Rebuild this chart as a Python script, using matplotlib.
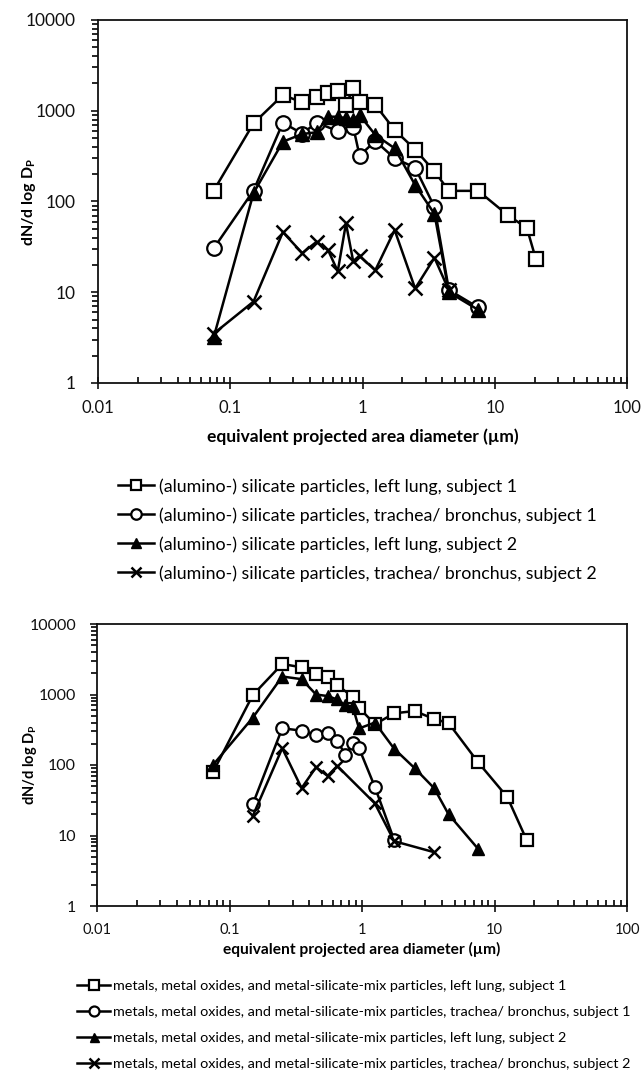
import matplotlib
matplotlib.use("Agg")
import matplotlib.pyplot as plt
from matplotlib.ticker import LogLocator, NullFormatter, FixedLocator, FixedFormatter

plt.rcParams['font.family'] = ['Lato', 'DejaVu Sans']
plt.rcParams['mathtext.fontset'] = 'custom'
plt.rcParams['mathtext.bf'] = 'Lato:bold'
plt.rcParams['mathtext.rm'] = 'Lato'

# ---------------- data: top panel, (alumino-) silicate particles ----------------
top_labels = [
    "(alumino-) silicate particles, left lung, subject 1",
    "(alumino-) silicate particles, trachea/ bronchus, subject 1",
    "(alumino-) silicate particles, left lung, subject 2",
    "(alumino-) silicate particles, trachea/ bronchus, subject 2",
]
t_sq_x = [0.075, 0.15, 0.25, 0.35, 0.45, 0.55, 0.65, 0.75, 0.85, 0.95, 1.25, 1.75, 2.5, 3.5, 4.5, 7.5, 12.5, 17.5, 20.5]
t_sq_y = [132, 727, 1490, 1240, 1430, 1580, 1660, 1150, 1780, 1240, 1160, 614, 374, 215, 131, 131, 71, 51, 23]
t_ci_x = [0.075, 0.15, 0.25, 0.35, 0.45, 0.65, 0.85, 0.95, 1.25, 1.75, 2.5, 3.5, 4.5, 7.5]
t_ci_y = [30.5, 132, 738, 560, 738, 598, 667, 320, 464, 299, 236, 87, 10.6, 6.8]
t_tr_x = [0.075, 0.15, 0.25, 0.35, 0.45, 0.55, 0.65, 0.75, 0.85, 0.95, 1.25, 1.75, 2.5, 3.5, 4.5, 7.5]
t_tr_y = [3.2, 124, 456, 554, 580, 860, 860, 826, 800, 898, 541, 386, 152, 73, 10, 6.4]
t_x_x = [0.075, 0.15, 0.25, 0.35, 0.45, 0.55, 0.65, 0.75, 0.85, 0.95, 1.25, 1.75, 2.5, 3.5, 4.5]
t_x_y = [3.5, 7.9, 46, 27, 36, 29, 17, 57.5, 22, 25, 17.5, 48.5, 11, 24, 10.5]

# ---------------- data: bottom panel, metals / metal oxides ----------------
bot_labels = [
    "metals, metal oxides, and metal-silicate-mix particles, left lung, subject 1",
    "metals, metal oxides, and metal-silicate-mix particles, trachea/ bronchus, subject 1",
    "metals, metal oxides, and metal-silicate-mix particles, left lung, subject 2",
    "metals, metal oxides, and metal-silicate-mix particles, trachea/ bronchus, subject 2",
]
b_sq_x = [0.075, 0.15, 0.25, 0.35, 0.45, 0.55, 0.65, 0.85, 0.95, 1.25, 1.75, 2.5, 3.5, 4.5, 7.5, 12.5, 17.5]
b_sq_y = [79, 984, 2710, 2430, 1950, 1750, 1360, 930, 650, 378, 541, 583, 449, 394, 110, 35, 8.6]
b_ci_x = [0.15, 0.25, 0.35, 0.45, 0.55, 0.65, 0.75, 0.85, 0.95, 1.25, 1.75]
b_ci_y = [28, 332, 307, 267, 287, 221, 139, 203, 173, 49, 8.6]
b_tr_x = [0.075, 0.15, 0.25, 0.35, 0.45, 0.55, 0.65, 0.75, 0.85, 0.95, 1.25, 1.75, 2.5, 3.5, 4.5, 7.5]
b_tr_y = [100, 470, 1800, 1650, 1000, 950, 850, 700, 680, 330, 400, 170, 90, 47, 20, 6.5]
b_x_x = [0.15, 0.25, 0.35, 0.45, 0.55, 0.65, 1.25, 1.75, 3.5]
b_x_y = [19, 173, 47, 93, 70, 97, 28.6, 8.3, 5.8]

x_ticks = [0.01, 0.1, 1, 10, 100]
x_ticklabels = ["0.01", "0.1", "1", "10", "100"]
y_ticks = [1, 10, 100, 1000, 10000]
y_ticklabels = ["1", "10", "100", "1000", "10000"]
xlabel = "equivalent projected area diameter (µm)"
ylabel = r"dN/d log D$_\mathbf{P}$"

W, H = 644, 1073
fig = plt.figure(figsize=(W / 100, H / 100), dpi=100)


def axes_px(left, right, top, bottom):
    return fig.add_axes([left / W, 1 - bottom / H, (right - left) / W, (bottom - top) / H])


def style_axes(ax, xtick_fs, ytick_fs, xlabel_fs, ylabel_fs, ypad, xlabelpad, ylabel_x):
    ax.set_xscale('log')
    ax.set_yscale('log')
    ax.set_xlim(0.01, 100)
    ax.set_ylim(1, 10000)
    ax.xaxis.set_major_locator(FixedLocator(x_ticks))
    ax.xaxis.set_major_formatter(FixedFormatter(x_ticklabels))
    ax.yaxis.set_major_locator(FixedLocator(y_ticks))
    ax.yaxis.set_major_formatter(FixedFormatter(y_ticklabels))
    ax.xaxis.set_minor_locator(LogLocator(base=10, subs=range(2, 10), numticks=20))
    ax.yaxis.set_minor_locator(LogLocator(base=10, subs=range(2, 10), numticks=20))
    ax.xaxis.set_minor_formatter(NullFormatter())
    ax.yaxis.set_minor_formatter(NullFormatter())
    ax.tick_params(axis='x', which='major', direction='inout', length=8, width=1.2,
                   labelsize=xtick_fs, pad=8, colors='#111111')
    ax.tick_params(axis='x', which='minor', direction='in', length=4, width=1.2)
    ax.tick_params(axis='y', which='major', direction='out', length=5, width=1.2,
                   labelsize=ytick_fs, pad=ypad, colors='#111111')
    ax.tick_params(axis='y', which='minor', direction='out', length=4, width=1.2)
    for s in ax.spines.values():
        s.set_linewidth(1.3)
        s.set_color('#111111')
    ax.set_xlabel(xlabel, fontsize=xlabel_fs, fontweight='bold', labelpad=xlabelpad)
    ax.set_ylabel(ylabel, fontsize=ylabel_fs, fontweight='bold')
    ax.yaxis.set_label_coords(ylabel_x, 0.5)


def plot_series(ax, xs, ys, ms, lw):
    lines = []
    l, = ax.plot(xs[0], ys[0], '-', color='black', lw=lw, marker='s', ms=ms,
                 mfc='white', mec='black', mew=1.6)
    lines.append(l)
    l, = ax.plot(xs[1], ys[1], '-', color='black', lw=lw, marker='o', ms=ms,
                 mfc='white', mec='black', mew=1.6)
    lines.append(l)
    l, = ax.plot(xs[2], ys[2], '-', color='black', lw=lw, marker='^', ms=ms * 0.9,
                 mfc='black', mec='black', mew=1.0)
    lines.append(l)
    l, = ax.plot(xs[3], ys[3], '-', color='black', lw=lw, marker='x', ms=ms,
                 mec='black', mew=1.8)
    lines.append(l)
    return lines


# ---------------- top panel ----------------
ax1 = axes_px(98, 627, 20, 383)
h1 = plot_series(ax1, [t_sq_x, t_ci_x, t_tr_x, t_x_x], [t_sq_y, t_ci_y, t_tr_y, t_x_y], 10.5, 1.8)
style_axes(ax1, 12, 12.5, 12.5, 11.5, 11, 9, (38 - 98) / 529)
ax1.legend(h1, top_labels, loc='upper left', bbox_to_anchor=(118 / W, 1 - 478 / H),
           bbox_transform=fig.transFigure, frameon=False, fontsize=12.8,
           handlelength=2.0, handletextpad=0.3, labelspacing=0.7,
           markerscale=0.72, borderaxespad=0, borderpad=0)

# ---------------- bottom panel ----------------
ax2 = axes_px(97, 627, 624, 906)
h2 = plot_series(ax2, [b_sq_x, b_ci_x, b_tr_x, b_x_x], [b_sq_y, b_ci_y, b_tr_y, b_x_y], 9, 1.8)
style_axes(ax2, 10.5, 11.5, 11.2, 10.5, 10, 4, (39 - 97) / 530)
ax2.legend(h2, bot_labels, loc='upper left', bbox_to_anchor=(77 / W, 1 - 980 / H),
           bbox_transform=fig.transFigure, frameon=False, fontsize=10.4,
           handlelength=2.3, handletextpad=0.2, labelspacing=0.95,
           markerscale=0.8, borderaxespad=0, borderpad=0)

fig.savefig("out.png", dpi=100)
